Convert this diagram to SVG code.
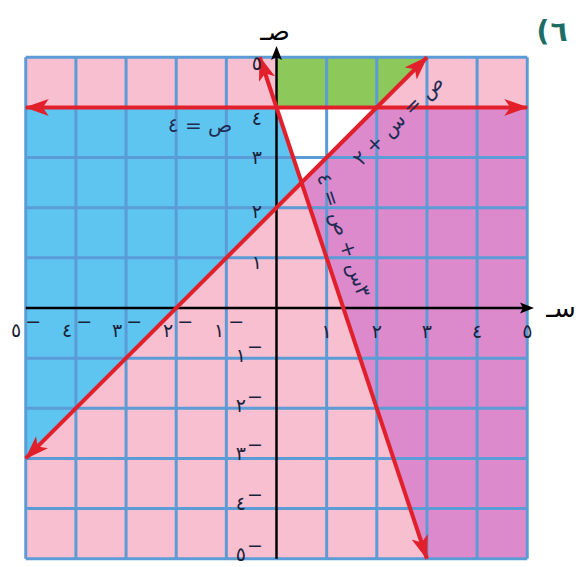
<svg xmlns="http://www.w3.org/2000/svg" width="583" height="567" viewBox="0 0 583 567">
  <style>
    .grid line { stroke: #5b9bd6; stroke-width: 3; }
    .red { stroke: #e2202c; stroke-width: 4; fill: none; marker-start: url(#ra); marker-end: url(#ra); }
    .axis { stroke: #000; stroke-width: 2.5; }
    .num { font-family: "DejaVu Sans", sans-serif; font-size: 19px; fill: #1a1f3a; }
    .lbl { font-family: "DejaVu Sans", sans-serif; font-size: 20px; fill: #1f2b52; }
    .ax { font-family: "DejaVu Sans", sans-serif; font-size: 26px; fill: #000; }
  </style>
  <defs>
    <marker id="ra" viewBox="0 0 24 18" refX="23" refY="9" markerWidth="24" markerHeight="18" markerUnits="userSpaceOnUse" orient="auto-start-reverse">
      <path d="M0,0.5 L24,9 L0,17.5 L6,9 Z" fill="#e2202c"/>
    </marker>
  </defs>
  <rect width="583" height="567" fill="#ffffff"/>

  <g id="regions">
    <rect x="25.75" y="57.25" width="501.5" height="501.5" fill="#f7bfd0"/>
    <polygon points="25.75,107.4 276.5,107.4 301.575,182.625 25.75,458.45" fill="#5ec5f0"/>
    <polygon points="276.5,107.4 376.8,107.4 301.575,182.625" fill="#ffffff"/>
    <polygon points="276.5,57.25 426.95,57.25 376.8,107.4 276.5,107.4" fill="#8cc85a"/>
    <polygon points="301.575,182.625 376.8,107.4 527.25,107.4 527.25,558.75 426.95,558.75" fill="#dc8acb"/>
  </g>

  <g id="grid" class="grid">
    <line x1="25.75" y1="57.25" x2="25.75" y2="558.75"/>
    <line x1="75.9" y1="57.25" x2="75.9" y2="558.75"/>
    <line x1="126.05" y1="57.25" x2="126.05" y2="558.75"/>
    <line x1="176.2" y1="57.25" x2="176.2" y2="558.75"/>
    <line x1="226.35" y1="57.25" x2="226.35" y2="558.75"/>
    <line x1="326.65" y1="57.25" x2="326.65" y2="558.75"/>
    <line x1="376.8" y1="57.25" x2="376.8" y2="558.75"/>
    <line x1="426.95" y1="57.25" x2="426.95" y2="558.75"/>
    <line x1="477.1" y1="57.25" x2="477.1" y2="558.75"/>
    <line x1="527.25" y1="57.25" x2="527.25" y2="558.75"/>
    <line x1="25.75" y1="57.25" x2="527.25" y2="57.25"/>
    <line x1="25.75" y1="107.4" x2="527.25" y2="107.4"/>
    <line x1="25.75" y1="157.55" x2="527.25" y2="157.55"/>
    <line x1="25.75" y1="207.7" x2="527.25" y2="207.7"/>
    <line x1="25.75" y1="257.85" x2="527.25" y2="257.85"/>
    <line x1="25.75" y1="358.15" x2="527.25" y2="358.15"/>
    <line x1="25.75" y1="408.3" x2="527.25" y2="408.3"/>
    <line x1="25.75" y1="458.45" x2="527.25" y2="458.45"/>
    <line x1="25.75" y1="508.6" x2="527.25" y2="508.6"/>
    <line x1="25.75" y1="558.75" x2="527.25" y2="558.75"/>
  </g>

  <g id="axes">
    <line class="axis" x1="25.75" y1="308" x2="524" y2="308"/>
    <polygon points="534,308 520,302.5 523,308 520,313.5" fill="#000"/>
    <line class="axis" x1="276.5" y1="558.75" x2="276.5" y2="56"/>
    <polygon points="276.5,46 271,60 276.5,57 282,60" fill="#000"/>
    <text class="ax" x="275" y="40" text-anchor="middle">صـ</text>
    <text class="ax" x="561" y="317" text-anchor="middle">سـ</text>
  </g>

  <g id="connectors">
    <line class="red" x1="25.75" y1="107.4" x2="527.25" y2="107.4"/>
    <line class="red" x1="25.75" y1="458.45" x2="426.95" y2="57.25"/>
    <line class="red" x1="259.78" y1="57.25" x2="426.95" y2="558.75"/>
  </g>

  <g id="ticks-y" class="num" text-anchor="end">
    <text x="262" y="70">٥</text>
    <text x="262" y="125">٤</text>
    <text x="262" y="164">٣</text>
    <text x="262" y="218">٢</text>
    <text x="262" y="269">١</text>
    <text x="263" y="362" direction="ltr" unicode-bidi="bidi-override">١<tspan dx="1" dy="-9">−</tspan></text>
    <text x="263" y="412" direction="ltr" unicode-bidi="bidi-override">٢<tspan dx="1" dy="-9">−</tspan></text>
    <text x="263" y="460" direction="ltr" unicode-bidi="bidi-override">٣<tspan dx="1" dy="-9">−</tspan></text>
    <text x="263" y="510" direction="ltr" unicode-bidi="bidi-override">٤<tspan dx="1" dy="-9">−</tspan></text>
    <text x="263" y="561" direction="ltr" unicode-bidi="bidi-override">٥<tspan dx="1" dy="-9">−</tspan></text>
  </g>

  <g id="ticks-x" class="num" text-anchor="middle">
    <text x="26" y="337" direction="ltr" unicode-bidi="bidi-override">٥<tspan dx="4" dy="-9">−</tspan></text>
    <text x="77" y="337" direction="ltr" unicode-bidi="bidi-override">٤<tspan dx="4" dy="-9">−</tspan></text>
    <text x="127" y="337" direction="ltr" unicode-bidi="bidi-override">٣<tspan dx="4" dy="-9">−</tspan></text>
    <text x="178" y="337" direction="ltr" unicode-bidi="bidi-override">٢<tspan dx="4" dy="-9">−</tspan></text>
    <text x="229" y="337" direction="ltr" unicode-bidi="bidi-override">١<tspan dx="4" dy="-9">−</tspan></text>
    <text x="326.65" y="338">١</text>
    <text x="376.8" y="338">٢</text>
    <text x="426.95" y="338">٣</text>
    <text x="477.1" y="338">٤</text>
    <text x="527.25" y="338">٥</text>
  </g>

  <g id="label-y4">
    <text class="lbl" x="200" y="132" text-anchor="middle" font-size="24">ص = ٤</text>
  </g>
  <g id="label-yx2">
    <text class="lbl" transform="translate(398,120) rotate(-45)" x="0" y="7" text-anchor="middle" font-size="19">ص = س + ٢</text>
  </g>
  <g id="label-3xy4">
    <text class="lbl" transform="translate(344,235) rotate(71.4)" x="0" y="7" text-anchor="middle" font-size="20">٣س + ص = ٤</text>
  </g>

  <g id="title" font-family="DejaVu Sans, sans-serif" font-size="28" font-weight="bold" fill="#1b6d66" text-anchor="middle">
    <text x="543" y="41">(</text>
    <text x="559" y="41">٦</text>
  </g>
</svg>
